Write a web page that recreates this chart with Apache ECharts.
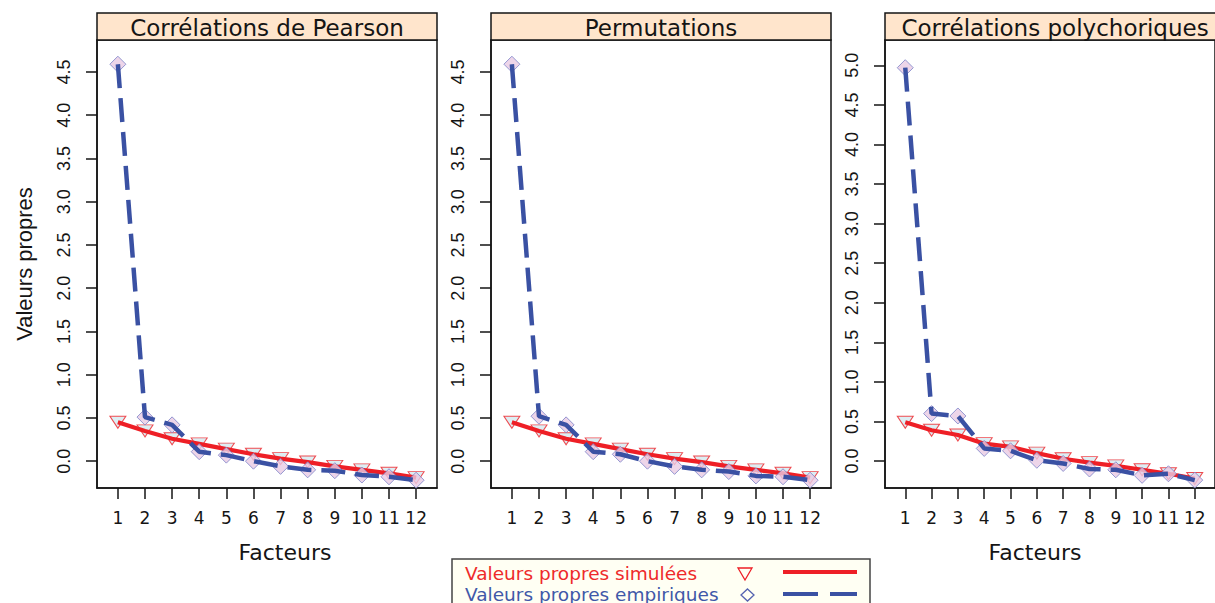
<!DOCTYPE html>
<html><head><meta charset="utf-8">
<script src="https://cdn.jsdelivr.net/npm/echarts@6/dist/echarts.min.js"></script>
<style>html,body{margin:0;padding:0;background:#fff}#c{width:1215px;height:603px}</style>
</head><body><div id="c"></div>
<script>
// ---- data ----
const factors = [1, 2, 3, 4, 5, 6, 7, 8, 9, 10, 11, 12];
const xTickValues = [1, 2, 3, 4, 5, 6, 7, 8, 9, 10, 11, 12];
const yTicksPearson = [0, 0.5, 1, 1.5, 2, 2.5, 3, 3.5, 4, 4.5];
const yTicksPerm = [0, 0.5, 1, 1.5, 2, 2.5, 3, 3.5, 4, 4.5];
const yTicksPoly = [0, 0.5, 1, 1.5, 2, 2.5, 3, 3.5, 4, 4.5, 5];
const panelTitles = ['Corrélations de Pearson', 'Permutations', 'Corrélations polychoriques'];
const pearsonSim = [0.45, 0.35, 0.26, 0.20, 0.14, 0.08, 0.03, -0.01, -0.06, -0.10, -0.14, -0.19];
const pearsonEmp = [4.59, 0.51, 0.42, 0.11, 0.07, 0.00, -0.06, -0.10, -0.11, -0.16, -0.18, -0.22];
const permSim = [0.45, 0.35, 0.26, 0.20, 0.14, 0.08, 0.03, -0.01, -0.06, -0.10, -0.14, -0.19];
const permEmp = [4.59, 0.52, 0.42, 0.11, 0.08, 0.00, -0.06, -0.10, -0.12, -0.17, -0.18, -0.22];
const polySim = [0.49, 0.39, 0.33, 0.22, 0.18, 0.10, 0.03, -0.02, -0.06, -0.11, -0.16, -0.22];
const polyEmp = [4.97, 0.60, 0.57, 0.16, 0.13, 0.01, -0.03, -0.10, -0.11, -0.18, -0.16, -0.24];
const legendLabels = ['Valeurs propres simulées', 'Valeurs propres empiriques'];
const xTitle = 'Facteurs';
const yTitle = 'Valeurs propres';

// ---- styling / layout ----
const RED = '#EE1F26', BLUE = '#3A51A3';
const panels = [
  {left: 97, sim: pearsonSim, emp: pearsonEmp, yt: yTicksPearson, ymin: -0.31, ymax: 4.87},
  {left: 491, sim: permSim, emp: permEmp, yt: yTicksPerm, ymin: -0.31, ymax: 4.87},
  {left: 885, sim: polySim, emp: polyEmp, yt: yTicksPoly, ymin: -0.34, ymax: 5.32}
];
const PW = 340, TOP = 40, PH = 448;
const ink = '#151515';

const grid = [], xAxis = [], yAxis = [], series = [];
panels.forEach((p, i) => {
  grid.push({left: p.left, top: TOP, width: PW, height: PH, show: true, borderColor: ink, borderWidth: 1.5, backgroundColor: 'transparent'});
  xAxis.push({
    type: 'value', gridIndex: i, min: 0.23, max: 12.77,
    axisLine: {show: true, onZero: false, lineStyle: {color: ink, width: 1.5}},
    axisTick: {show: true, customValues: xTickValues, length: 11, lineStyle: {color: ink, width: 1.5}},
    axisLabel: {customValues: xTickValues, margin: 21, fontSize: 17, fontFamily: 'DejaVu Sans', color: ink},
    splitLine: {show: false}
  });
  const ya = {
    type: 'value', gridIndex: i, min: p.ymin, max: p.ymax,
    axisLine: {show: true, onZero: false, lineStyle: {color: ink, width: 1.5}},
    axisTick: {show: true, customValues: p.yt, length: 11, lineStyle: {color: ink, width: 1.5}},
    axisLabel: {customValues: p.yt, rotate: 90, margin: 24, fontSize: 18, fontFamily: 'Liberation Sans', color: ink,
      formatter: v => Number(v).toFixed(1)},
    splitLine: {show: false}
  };
  if (i === 0) {
    ya.name = yTitle; ya.nameLocation = 'middle'; ya.nameRotate = 90; ya.nameGap = 62;
    ya.nameTextStyle = {fontSize: 22, fontFamily: 'Liberation Sans', color: ink};
  }
  yAxis.push(ya);
  const simData = factors.map((f, k) => [f, p.sim[k]]);
  const empData = factors.map((f, k) => [f, p.emp[k]]);
  series.push({type: 'scatter', xAxisIndex: i, yAxisIndex: i, data: simData, symbol: 'triangle', symbolRotate: 180,
    symbolSize: [16, 12], itemStyle: {color: '#D4EAF0', borderColor: RED, borderWidth: 1}, z: 2, silent: true});
  series.push({type: 'line', xAxisIndex: i, yAxisIndex: i, data: simData, symbol: 'none',
    lineStyle: {color: RED, width: 4.2}, z: 3, silent: true});
  series.push({type: 'scatter', xAxisIndex: i, yAxisIndex: i, data: empData, symbol: 'diamond',
    symbolSize: [16, 16], itemStyle: {color: '#E8CBE3', borderColor: '#7B82C8', borderWidth: 1}, z: 4, silent: true});
  series.push({type: 'line', xAxisIndex: i, yAxisIndex: i, data: empData, symbol: 'none',
    lineStyle: {color: BLUE, width: 4.5, type: [24, 10]}, z: 5, silent: true});
});

const graphic = [];
panels.forEach((p, i) => {
  graphic.push({type: 'rect', shape: {x: p.left, y: 13, width: PW, height: 27},
    style: {fill: '#FFE5CC', stroke: ink, lineWidth: 1.5}});
  graphic.push({type: 'text', x: p.left + PW / 2, y: 28,
    style: {text: panelTitles[i], font: '23px "DejaVu Sans"', fill: ink, align: 'center', verticalAlign: 'middle', textAlign: 'center', textVerticalAlign: 'middle'}});
});
[285, 1035].forEach(cx => {
  graphic.push({type: 'text', x: cx, y: 552,
    style: {text: xTitle, font: '22px "DejaVu Sans"', fill: ink, align: 'center', verticalAlign: 'middle', textAlign: 'center', textVerticalAlign: 'middle'}});
});
// legend
graphic.push({type: 'rect', shape: {x: 452, y: 559, width: 418, height: 60}, style: {fill: '#FFFFF3', stroke: '#444', lineWidth: 1.5}});
graphic.push({type: 'text', x: 465, y: 573, style: {text: legendLabels[0], font: '18.5px "DejaVu Sans"', fill: '#EE2A2A', align: 'left', verticalAlign: 'middle', textAlign: 'left', textVerticalAlign: 'middle'}});
graphic.push({type: 'text', x: 465, y: 594, style: {text: legendLabels[1], font: '18.5px "DejaVu Sans"', fill: '#4058A8', align: 'left', verticalAlign: 'middle', textAlign: 'left', textVerticalAlign: 'middle'}});
graphic.push({type: 'polygon', shape: {points: [[738, 568], [752, 568], [745, 580]]}, style: {fill: 'none', stroke: RED, lineWidth: 1.3}});
graphic.push({type: 'polygon', shape: {points: [[747.5, 589], [754, 595], [747.5, 601], [741, 595]]}, style: {fill: 'none', stroke: '#5563B0', lineWidth: 1.3}});
graphic.push({type: 'line', shape: {x1: 783, y1: 572, x2: 857, y2: 572}, style: {stroke: RED, lineWidth: 4}});
graphic.push({type: 'line', shape: {x1: 783, y1: 594, x2: 857, y2: 594}, style: {stroke: BLUE, lineWidth: 4, lineDash: [35, 12]}});

const chart = echarts.init(document.getElementById('c'), null, {renderer: 'svg'});
chart.setOption({animation: false, backgroundColor: '#fff', grid, xAxis, yAxis, series, graphic});
</script>
</body></html>
